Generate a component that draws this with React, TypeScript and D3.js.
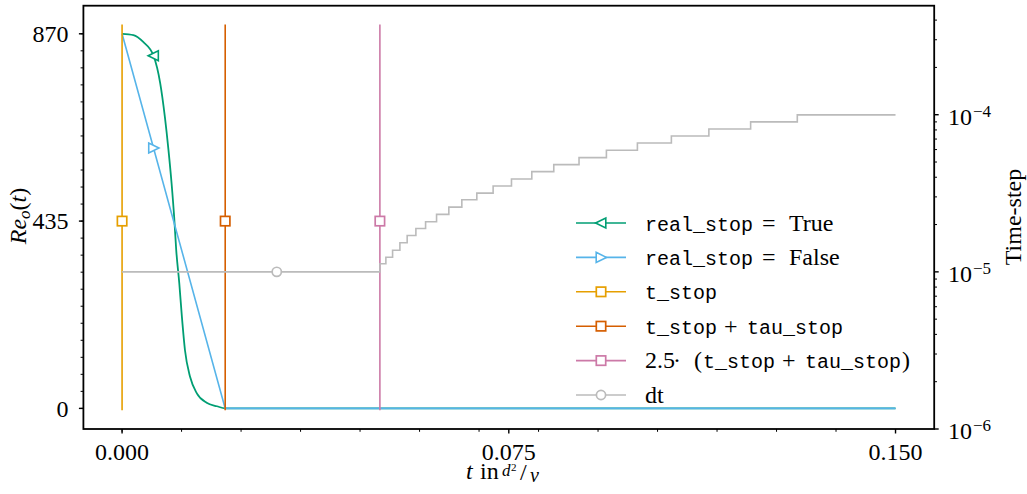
import React from 'react';
import * as d3 from 'd3';

// ---- data ----
const T_TRUE = [0, 0.0022, 0.0041, 0.0061, 0.0074, 0.0083, 0.0090, 0.0096, 0.0101, 0.0105, 0.0111, 0.0116, 0.0122, 0.0132, 0.0145, 0.0164, 0.0184, 0.0200, 0.1500];
const RE_TRUE = [870, 867, 851, 819, 755, 677, 600, 523, 445, 368, 290, 213, 135, 73, 35, 13, 5, 0, 0];
const TRUE_MARKER_INDEX = 3;
const T_FALSE = [0, 0.02, 0.15];
const RE_FALSE = [870, 0, 0];
const FALSE_MARKER_T = 0.0061;
const STOP_TIMES = [0, 0.02, 0.05];
const STOP_MARKER_RE = 435;
const RE_MAX = 870;
const DT_T = [0, 0.05, 0.05116, 0.05246, 0.05388, 0.05529, 0.05698, 0.05886, 0.06099, 0.06337, 0.06589, 0.0688, 0.07196, 0.07552, 0.07946, 0.08372, 0.08862, 0.09393, 0.09994, 0.10653, 0.1138, 0.1219, 0.13095, 0.15];
const DT_V = [1e-5, 1.125e-5, 1.239e-5, 1.373e-5, 1.531e-5, 1.704e-5, 1.889e-5, 2.084e-5, 2.32e-5, 2.582e-5, 2.879e-5, 3.171e-5, 3.515e-5, 3.895e-5, 4.343e-5, 4.813e-5, 5.334e-5, 5.937e-5, 6.609e-5, 7.324e-5, 8.118e-5, 8.998e-5, 9.97e-5, 9.97e-5];
const DT_MARKER_T = 0.03;
const DT_MARKER_V = 1e-5;
const X_TICKS = [0, 0.075, 0.15];
const X_TICK_LABELS = ['0.000', '0.075', '0.150'];
const Y_TICKS = [0, 435, 870];
const Y_TICK_LABELS = ['0', '435', '870'];
const YR_TICKS = [1e-6, 1e-5, 1e-4];
const YR_TICK_EXP = ['−6', '−5', '−4'];

const GREEN = '#009E73';
const BLUE = '#56B4E9';
const ORANGE = '#E69F00';
const VERMILLION = '#D55E00';
const PINK = '#CC79A7';
const GRAY = '#BBBBBB';
const STOP_COLORS = [ORANGE, VERMILLION, PINK];

const L = 83.4, R = 934.2, T = 5.7, B = 429;

const x = d3.scaleLinear().domain([-0.0075, 0.1575]).range([L, R]);
const yL = d3.scaleLinear().domain([-0.055 * RE_MAX, 1.075 * RE_MAX]).range([B, T]);
const yR = d3.scaleLog().domain([1e-6, 4.94e-4]).range([B, T]);

const triLeft = (cx: number, cy: number, c: string) => (
  <path d={`M${cx - 5.4},${cy} L${cx + 4.8},${cy - 5} L${cx + 4.8},${cy + 5} Z`} fill="white" stroke={c} strokeWidth={1.6} />
);
const triRight = (cx: number, cy: number, c: string) => (
  <path d={`M${cx + 5.4},${cy} L${cx - 4.8},${cy - 5} L${cx - 4.8},${cy + 5} Z`} fill="white" stroke={c} strokeWidth={1.6} />
);
const square = (cx: number, cy: number, c: string) => (
  <rect x={cx - 4.7} y={cy - 4.7} width={9.4} height={9.4} fill="white" stroke={c} strokeWidth={1.7} />
);
const circle = (cx: number, cy: number, c: string) => (
  <circle cx={cx} cy={cy} r={4.6} fill="white" stroke={c} strokeWidth={1.7} />
);

const serif = { fontFamily: "'Liberation Serif'" };
const mono = { fontFamily: "'Liberation Mono'" };

export default function App() {
  const lineTrue = d3.line<number>().x((_, i) => x(T_TRUE[i])).y((d) => yL(d)).curve(d3.curveMonotoneX);
  const lineFalse = d3.line<number>().x((_, i) => x(T_FALSE[i])).y((d) => yL(d));
  const lineDt = d3.line<number>().x((_, i) => x(DT_T[i])).y((d) => yR(d)).curve(d3.curveStepAfter);
  const falseInterp = d3.scaleLinear().domain(T_FALSE).range(RE_FALSE);

  const xMinor = d3.range(0, 14).map((i) => (i * 0.15) / 13);
  const yMinor = d3.range(0, 23).map((i) => (i * RE_MAX) / 22);
  const rMinor: number[] = [];
  [1e-6, 1e-5, 1e-4].forEach((dec) => {
    for (let k = 2; k <= 9; k++) {
      const v = dec * k;
      if (v <= 4.94e-4) rMinor.push(v);
    }
  });

  const legendY = (i: number) => 223 + 34.4 * i;
  const hx0 = 576, hx1 = 626, hxm = 601, tx = 645;

  return (
    <svg width={1027} height={494} style={{ position: 'absolute', left: 0, top: 0, background: 'white', fontFamily: "'Liberation Serif'" }}>
      <rect x={0} y={0} width={1027} height={494} fill="white" />
      {/* data lines */}
      <path d={lineTrue(RE_TRUE) || ''} fill="none" stroke={GREEN} strokeWidth={1.8} />
      {triLeft(x(T_TRUE[TRUE_MARKER_INDEX]), yL(RE_TRUE[TRUE_MARKER_INDEX]), GREEN)}
      <path d={lineFalse(RE_FALSE) || ''} fill="none" stroke={BLUE} strokeWidth={1.6} />
      {triRight(x(FALSE_MARKER_T), yL(falseInterp(FALSE_MARKER_T)), BLUE)}
      {STOP_TIMES.map((t, i) => (
        <g key={'s' + i}>
          <line x1={x(t)} x2={x(t)} y1={yL(-0.005 * RE_MAX)} y2={yL(1.025 * RE_MAX)} stroke={STOP_COLORS[i]} strokeWidth={1.6} />
          {square(x(t), yL(STOP_MARKER_RE), STOP_COLORS[i])}
        </g>
      ))}
      <path d={lineDt(DT_V) || ''} fill="none" stroke={GRAY} strokeWidth={1.6} />
      {circle(x(DT_MARKER_T), yR(DT_MARKER_V), GRAY)}

      {/* spines */}
      <rect x={L} y={T} width={R - L} height={B - T} fill="none" stroke="black" strokeWidth={1.8} />

      {/* x ticks */}
      {xMinor.map((v, i) => (
        <line key={'xm' + i} x1={x(v)} x2={x(v)} y1={B} y2={B + 2.8} stroke="black" strokeWidth={1} />
      ))}
      {X_TICKS.map((v, i) => (
        <g key={'xt' + i}>
          <line x1={x(v)} x2={x(v)} y1={B} y2={B + 4.5} stroke="black" strokeWidth={1.4} />
          <text x={x(v)} y={460} textAnchor="middle" fontSize={24} style={serif}>{X_TICK_LABELS[i]}</text>
        </g>
      ))}
      {/* left ticks */}
      {yMinor.map((v, i) => (
        <line key={'ym' + i} x1={L} x2={L - 2.8} y1={yL(v)} y2={yL(v)} stroke="black" strokeWidth={1} />
      ))}
      {Y_TICKS.map((v, i) => (
        <g key={'yt' + i}>
          <line x1={L} x2={L - 4.5} y1={yL(v)} y2={yL(v)} stroke="black" strokeWidth={1.4} />
          <text x={68.5} y={yL(v)} dy={8.3} textAnchor="end" fontSize={24} style={serif}>{Y_TICK_LABELS[i]}</text>
        </g>
      ))}
      {/* right ticks */}
      {rMinor.map((v, i) => (
        <line key={'rm' + i} x1={R} x2={R + 2.8} y1={yR(v)} y2={yR(v)} stroke="black" strokeWidth={1} />
      ))}
      {YR_TICKS.map((v, i) => (
        <g key={'rt' + i}>
          <line x1={R} x2={R + 4.5} y1={yR(v)} y2={yR(v)} stroke="black" strokeWidth={1.4} />
          <text x={948} y={yR(v) + 10.3} fontSize={24} style={serif}>
            10<tspan fontSize={17} dy={-8.3} dx={1}>{YR_TICK_EXP[i]}</tspan>
          </text>
        </g>
      ))}

      {/* axis labels */}
      <text transform="translate(26,216) rotate(-90)" textAnchor="middle" fontSize={24} style={serif}>
        <tspan fontStyle="italic">Re</tspan>
        <tspan fontStyle="italic" fontSize={17} dy={4}>o</tspan>
        <tspan dy={-4}>(</tspan>
        <tspan fontStyle="italic">t</tspan>
        <tspan>)</tspan>
      </text>
      <text transform="translate(1021,217) rotate(-90)" textAnchor="middle" fontSize={24} style={serif}>Time-step</text>
      <text y={479} fontSize={24} style={serif}>
        <tspan x={466} fontStyle="italic">t</tspan>
        <tspan x={480}>in</tspan>
        <tspan x={502} y={476} fontStyle="italic" fontSize={17}>d</tspan>
        <tspan x={511} y={471} fontSize={11}>2</tspan>
        <tspan x={520} y={480} fontSize={24}>/</tspan>
        <tspan x={530} y={482} fontStyle="italic" fontSize={20}>ν</tspan>
      </text>

      {/* legend */}
      <g fontSize={24} style={serif}>
        <line x1={hx0} x2={hx1} y1={legendY(0)} y2={legendY(0)} stroke={GREEN} strokeWidth={1.6} />
        {triLeft(hxm, legendY(0), GREEN)}
        <text y={legendY(0) + 7.5}>
          <tspan x={tx} style={mono} fontSize={20}>real_stop</tspan>
          <tspan x={762}>=</tspan>
          <tspan x={789}>True</tspan>
        </text>

        <line x1={hx0} x2={hx1} y1={legendY(1)} y2={legendY(1)} stroke={BLUE} strokeWidth={1.6} />
        {triRight(hxm, legendY(1), BLUE)}
        <text y={legendY(1) + 7.5}>
          <tspan x={tx} style={mono} fontSize={20}>real_stop</tspan>
          <tspan x={762}>=</tspan>
          <tspan x={789}>False</tspan>
        </text>

        <line x1={hx0} x2={hx1} y1={legendY(2)} y2={legendY(2)} stroke={ORANGE} strokeWidth={1.6} />
        {square(hxm, legendY(2), ORANGE)}
        <text y={legendY(2) + 7.5}>
          <tspan x={tx} style={mono} fontSize={20}>t_stop</tspan>
        </text>

        <line x1={hx0} x2={hx1} y1={legendY(3)} y2={legendY(3)} stroke={VERMILLION} strokeWidth={1.6} />
        {square(hxm, legendY(3), VERMILLION)}
        <text y={legendY(3) + 7.5}>
          <tspan x={tx} style={mono} fontSize={20}>t_stop</tspan>
          <tspan x={724}>+</tspan>
          <tspan x={747} style={mono} fontSize={20}>tau_stop</tspan>
        </text>

        <line x1={hx0} x2={hx1} y1={legendY(4)} y2={legendY(4)} stroke={PINK} strokeWidth={1.6} />
        {square(hxm, legendY(4), PINK)}
        <text y={legendY(4) + 7.5}>
          <tspan x={tx}>2.5</tspan>
          <tspan x={673}>·</tspan>
          <tspan x={694}>(</tspan>
          <tspan x={703} style={mono} fontSize={20}>t_stop</tspan>
          <tspan x={782}>+</tspan>
          <tspan x={805} style={mono} fontSize={20}>tau_stop</tspan>
          <tspan x={902}>)</tspan>
        </text>

        <line x1={hx0} x2={hx1} y1={legendY(5)} y2={legendY(5)} stroke={GRAY} strokeWidth={1.6} />
        {circle(hxm, legendY(5), GRAY)}
        <text x={tx} y={legendY(5) + 7.5}>dt</text>
      </g>
    </svg>
  );
}
